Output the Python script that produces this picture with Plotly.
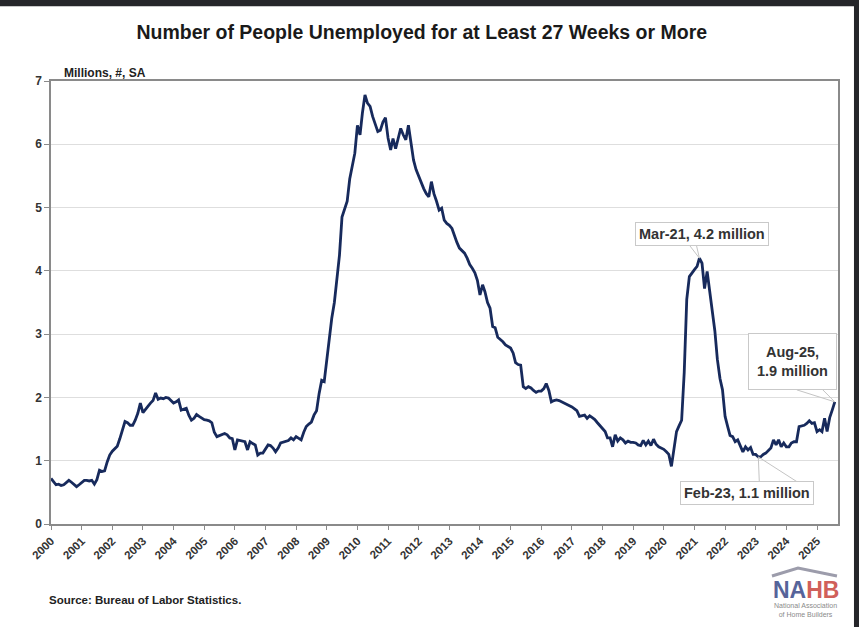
import pandas as pd
import plotly.graph_objects as go

# long-term unemployed (27+ weeks), millions, monthly
v2000 = [0.72, 0.67, 0.62, 0.63, 0.61, 0.62, 0.66, 0.69, 0.66, 0.62, 0.59, 0.62]
v2001 = [0.65, 0.69, 0.69, 0.68, 0.69, 0.63, 0.70, 0.85, 0.83, 0.84, 0.98, 1.09]
v2002 = [1.15, 1.20, 1.23, 1.35, 1.48, 1.62, 1.60, 1.56, 1.56, 1.64, 1.75, 1.91]
v2003 = [1.76, 1.82, 1.86, 1.91, 1.95, 2.07, 1.97, 1.99, 1.98, 2.00, 1.99, 1.95]
v2004 = [1.91, 1.93, 1.96, 1.80, 1.82, 1.83, 1.72, 1.64, 1.67, 1.73, 1.70, 1.67]
v2005 = [1.65, 1.64, 1.63, 1.60, 1.45, 1.38, 1.40, 1.42, 1.43, 1.41, 1.36, 1.35]
v2006 = [1.17, 1.33, 1.32, 1.31, 1.30, 1.17, 1.30, 1.27, 1.25, 1.09, 1.12, 1.12]
v2007 = [1.18, 1.25, 1.24, 1.20, 1.14, 1.20, 1.28, 1.29, 1.30, 1.32, 1.36, 1.33]
v2008 = [1.38, 1.35, 1.33, 1.45, 1.54, 1.58, 1.61, 1.72, 1.79, 2.06, 2.27, 2.25]
v2009 = [2.60, 2.90, 3.25, 3.50, 3.85, 4.25, 4.85, 4.98, 5.10, 5.45, 5.65, 5.86]
v2010 = [6.30, 6.15, 6.49, 6.78, 6.65, 6.60, 6.44, 6.30, 6.20, 6.22, 6.35, 6.42]
v2011 = [6.10, 5.91, 6.09, 5.93, 6.10, 6.25, 6.15, 6.07, 6.30, 6.05, 5.75, 5.60]
v2012 = [5.49, 5.40, 5.30, 5.22, 5.17, 5.41, 5.22, 5.10, 4.96, 4.99, 4.80, 4.75]
v2013 = [4.72, 4.67, 4.55, 4.45, 4.36, 4.32, 4.28, 4.20, 4.10, 4.04, 3.97, 3.85]
v2014 = [3.62, 3.78, 3.67, 3.50, 3.41, 3.12, 3.10, 2.95, 2.92, 2.88, 2.83, 2.80]
v2015 = [2.78, 2.70, 2.55, 2.52, 2.51, 2.17, 2.14, 2.17, 2.15, 2.11, 2.08, 2.10]
v2016 = [2.10, 2.14, 2.22, 2.11, 1.93, 1.95, 1.96, 1.95, 1.93, 1.92, 1.90, 1.87]
v2017 = [1.85, 1.82, 1.79, 1.70, 1.71, 1.72, 1.67, 1.71, 1.68, 1.65, 1.60, 1.55]
v2018 = [1.50, 1.46, 1.36, 1.36, 1.22, 1.41, 1.31, 1.36, 1.33, 1.28, 1.31, 1.29]
v2019 = [1.29, 1.28, 1.25, 1.24, 1.32, 1.25, 1.31, 1.24, 1.34, 1.26, 1.22, 1.20]
v2020 = [1.18, 1.14, 1.10, 0.91, 1.18, 1.46, 1.55, 1.64, 2.40, 3.55, 3.91, 3.97]
v2021 = [4.02, 4.07, 4.20, 4.12, 3.72, 3.99, 3.70, 3.35, 3.05, 2.60, 2.30, 2.12]
v2022 = [1.70, 1.54, 1.40, 1.38, 1.30, 1.33, 1.22, 1.14, 1.22, 1.17, 1.21, 1.10]
v2023 = [1.10, 1.06, 1.06, 1.10, 1.12, 1.16, 1.20, 1.33, 1.25, 1.33, 1.22, 1.28]
v2024 = [1.22, 1.22, 1.28, 1.30, 1.30, 1.54, 1.55, 1.56, 1.59, 1.63, 1.59, 1.60]
v2025 = [1.46, 1.49, 1.46, 1.67, 1.46, 1.68, 1.80, 1.93]

years = list(range(2000, 2026))
yticks = [0, 1, 2, 3, 4, 5, 6, 7]

values = (v2000 + v2001 + v2002 + v2003 + v2004 + v2005 + v2006 + v2007 + v2008
          + v2009 + v2010 + v2011 + v2012 + v2013 + v2014 + v2015 + v2016 + v2017
          + v2018 + v2019 + v2020 + v2021 + v2022 + v2023 + v2024 + v2025)
dates = pd.date_range("2000-01-01", periods=len(values), freq="MS")

# callouts: label, month, box offset (px), wedge path (px, relative to point), box size
callouts = [
    ("<b>Mar-21, 4.2 million</b>", "2021-03-01", 3, 24, "M -10,13 L 0,0 L -3,13", None, None),
    ("<b>Aug-25,<br>1.9 million</b>", "2025-08-01", -42, 40, "M -38,12 L 0,0 L -12,12", 81, 49),
    ("<b>Feb-23, 1.1 million</b>", "2023-02-01", -11, -36, "M 1,-25 L 0,0 L 39,-25", None, None),
]

FONT = "Liberation Sans, Arial, sans-serif"
NARROW = "Liberation Sans Narrow, Arial Narrow, Liberation Sans, sans-serif"

fig = go.Figure()
fig.add_trace(go.Scatter(
    x=dates, y=values, mode="lines",
    line=dict(color="#172a5c", width=2.8),
    showlegend=False,
    hovertemplate="%{x|%b-%y}: %{y:.2f} million<extra></extra>",
))

shapes = []
annotations = []
for text, month, dx, dy, path, w, h in callouts:
    i = list(dates).index(pd.Timestamp(month))
    annotations.append(dict(
        x=dates[i], y=values[i], xref="x", yref="y", text=text, showarrow=False,
        xshift=dx, yshift=dy, bgcolor="white", bordercolor="#c9c9c9",
        borderwidth=1, borderpad=3, width=w, height=h,
        font=dict(family=FONT, size=14.5, color="#333333"),
    ))
    shapes.append(dict(
        type="path", xref="x", yref="y", xsizemode="pixel", ysizemode="pixel",
        xanchor=dates[i].strftime("%Y-%m-%d"), yanchor=values[i], path=path,
        line=dict(color="#c4c4c4", width=1),
    ))

# dark screenshot frame (top and right)
shapes.append(dict(type="rect", xref="paper", yref="paper", x0=-0.1, x1=1.1,
                   y0=1.169, y1=1.25, fillcolor="#25262a", line_width=0, layer="above"))
shapes.append(dict(type="rect", xref="paper", yref="paper", x0=1.0203, x1=1.1,
                   y0=-0.3, y1=1.25, fillcolor="#25262a", line_width=0, layer="above"))
# NAHB roof
shapes.append(dict(type="path", xref="paper", yref="paper",
                   path="M 0.9161,-0.1174 L 0.9492,-0.0993 L 0.9987,-0.1174",
                   line=dict(color="#9c9cab", width=3)))

annotations += [
    dict(text="<b>Millions, #, SA</b>", xref="paper", yref="paper", x=0.0140, y=1.018,
         xanchor="left", yanchor="middle", showarrow=False,
         font=dict(family=NARROW, size=12, color="#222222")),
    dict(text="<b>Source: Bureau of Labor Statistics.</b>", xref="paper", yref="paper",
         x=-0.0051, y=-0.172, xanchor="left", yanchor="middle", showarrow=False,
         font=dict(family=FONT, size=11.5, color="#222222")),
    dict(text="<b><span style='color:#56649a'>NA</span><span style='color:#d0605a'>HB</span></b>",
         xref="paper", yref="paper", x=0.9593, y=-0.149, xanchor="center", yanchor="middle",
         showarrow=False, font=dict(family=FONT, size=23)),
    dict(text="National Association<br>of Home Builders", xref="paper", yref="paper",
         x=0.9593, y=-0.195, xanchor="center", yanchor="middle", showarrow=False,
         font=dict(family=FONT, size=7, color="#8a8a8a")),
]

fig.update_layout(
    width=859, height=627,
    margin=dict(l=51, r=21, t=81, b=103),
    paper_bgcolor="white", plot_bgcolor="white",
    title=dict(text="<b>Number of People Unemployed for at Least 27 Weeks or More</b>",
               x=0.491, y=0.949, xref="container", yref="container",
               xanchor="center", yanchor="middle",
               font=dict(family=NARROW, size=19.5, color="#1a1a1a")),
    shapes=shapes,
    annotations=annotations,
    xaxis=dict(
        range=["2000-01-01", "2025-09-08"],
        tickvals=[f"{y}-01-01" for y in years], ticktext=[str(y) for y in years],
        tickangle=-45, ticks="outside", ticklen=4, tickcolor="#8a8a8a",
        showline=True, linecolor="#8a8a8a", linewidth=1.5, mirror=True,
        showgrid=False, zeroline=False,
        tickfont=dict(family=FONT, size=11.5, color="#333333", weight="bold"),
    ),
    yaxis=dict(
        range=[0, 7], tickvals=yticks, ticks="outside", ticklen=5, tickcolor="#8a8a8a",
        showline=True, linecolor="#8a8a8a", linewidth=1.5, mirror=True,
        showgrid=True, gridcolor="#dedede", gridwidth=1, zeroline=False,
        tickfont=dict(family=FONT, size=12, color="#333333", weight="bold"),
    ),
)

fig.write_html("out.html", config={"displayModeBar": False},
               post_script="document.body.style.margin='0';")
